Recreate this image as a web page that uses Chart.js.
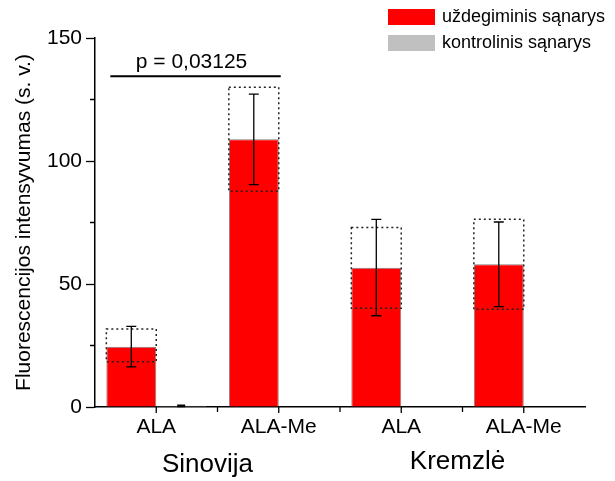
<!DOCTYPE html>
<html>
<head>
<meta charset="utf-8">
<script src="https://cdn.jsdelivr.net/npm/chart.js@4/dist/chart.umd.min.js"></script>
<style>
  html, body { margin: 0; padding: 0; background: #fff; }
  #wrap { width: 615px; height: 481px; }
</style>
</head>
<body>
<div id="wrap"><canvas id="myChart" width="615" height="481"></canvas></div>
<script>
// kategorijos ir grupės
var categories = ['ALA', 'ALA-Me', 'ALA', 'ALA-Me'];
var groups = ['Sinovija', 'Kremzlė'];

// uždegiminis sąnarys: vidurkis, paklaidos, punktyrinis intervalas
var inflamed = [24.5, 108.8, 56.6, 58.0];
var inflamedErrLow = [16.3, 90.4, 37.1, 40.8];
var inflamedErrHigh = [32.8, 127.2, 76.3, 75.2];
var inflamedBoxLow = [18.4, 87.7, 40.1, 39.7];
var inflamedBoxHigh = [31.7, 130.0, 73.0, 76.3];

// kontrolinis sąnarys
var control = [0.5, 0, 0, 0];
var controlErrLow = [0.2, 0, 0, 0];
var controlErrHigh = [0.8, 0, 0, 0];

var yTicks = [0, 50, 100, 150];
var yMinorTicks = [25, 75, 125];

var pText = 'p = 0,03125';
var pLevel = 134.5;

var font = "'Liberation Sans', Arial, sans-serif";

function errBar(ctx, x, yLo, yHi, cap) {
  ctx.beginPath();
  ctx.moveTo(x, yLo); ctx.lineTo(x, yHi);
  ctx.moveTo(x - cap, yLo); ctx.lineTo(x + cap, yLo);
  ctx.moveTo(x - cap, yHi); ctx.lineTo(x + cap, yHi);
  ctx.stroke();
}

var extras = {
  id: 'extras',
  afterDatasetsDraw: function(chart) {
    var ctx = chart.ctx;
    var y = chart.scales.y;
    var red = chart.getDatasetMeta(0).data;
    var grey = chart.getDatasetMeta(1).data;
    ctx.save();

    // punktyriniai stačiakampiai
    ctx.strokeStyle = '#222';
    ctx.lineWidth = 1.5;
    ctx.setLineDash([2, 3]);
    red.forEach(function(bar, i) {
      var l = bar.x - bar.width / 2, r = bar.x + bar.width / 2;
      var t = y.getPixelForValue(inflamedBoxHigh[i]);
      var b = y.getPixelForValue(inflamedBoxLow[i]);
      ctx.strokeRect(l, t, r - l, b - t);
    });
    ctx.setLineDash([]);

    // paklaidos
    ctx.strokeStyle = '#000';
    ctx.lineWidth = 1.3;
    red.forEach(function(bar, i) {
      errBar(ctx, bar.x, y.getPixelForValue(inflamedErrLow[i]), y.getPixelForValue(inflamedErrHigh[i]), 5);
    });
    grey.forEach(function(bar, i) {
      if (controlErrHigh[i] > 0) {
        errBar(ctx, bar.x, y.getPixelForValue(controlErrLow[i]), y.getPixelForValue(controlErrHigh[i]), 4);
      }
    });

    // p reikšmės linija
    var pl = red[0].x - red[0].width / 2 + 4;
    var pr = red[1].x + red[1].width / 2 + 2;
    var py = y.getPixelForValue(pLevel);
    ctx.lineWidth = 2;
    ctx.beginPath();
    ctx.moveTo(pl, py); ctx.lineTo(pr, py);
    ctx.stroke();
    ctx.fillStyle = '#000';
    ctx.font = '21px ' + font;
    ctx.textAlign = 'center';
    ctx.textBaseline = 'alphabetic';
    ctx.fillText(pText, (pl + pr) / 2 - 4, py - 8);
    ctx.restore();
  },
  afterDraw: function(chart) {
    var ctx = chart.ctx;
    var x = chart.scales.x, y = chart.scales.y;
    var a = chart.chartArea;
    ctx.save();
    ctx.strokeStyle = '#000';
    ctx.lineWidth = 1.3;
    ctx.beginPath();
    // smulkios y ašies žymos
    yMinorTicks.forEach(function(v) {
      var py = y.getPixelForValue(v);
      ctx.moveTo(a.left - 5, py); ctx.lineTo(a.left, py);
    });
    // x ašies žymos: centrai ir kategorijų ribos
    for (var i = 0; i < categories.length; i++) {
      var pc = x.getPixelForValue(i);
      ctx.moveTo(pc, a.bottom); ctx.lineTo(pc, a.bottom + 6);
      if (i < categories.length - 1) {
        var pb = x.getPixelForValue(i + 0.5);
        ctx.moveTo(pb, a.bottom); ctx.lineTo(pb, a.bottom + 5);
      }
    }
    ctx.stroke();

    // grupių pavadinimai
    ctx.fillStyle = '#000';
    ctx.font = '26px ' + font;
    ctx.textAlign = 'center';
    ctx.textBaseline = 'alphabetic';
    var m1 = (x.getPixelForValue(0) + x.getPixelForValue(1)) / 2;
    var m2 = (x.getPixelForValue(2) + x.getPixelForValue(3)) / 2;
    ctx.fillText(groups[0], m1 - 10, 472);
    ctx.fillText(groups[1], m2 - 5, 469);

    // legenda
    var items = [
      { label: 'uždegiminis sąnarys', fill: chart.data.datasets[0].backgroundColor, y: 9 },
      { label: 'kontrolinis sąnarys', fill: chart.data.datasets[1].backgroundColor, y: 35 }
    ];
    ctx.font = '18px ' + font;
    ctx.textAlign = 'left';
    ctx.textBaseline = 'middle';
    items.forEach(function(it) {
      ctx.fillStyle = it.fill;
      ctx.fillRect(388, it.y, 47, 16);
      ctx.fillStyle = '#000';
      ctx.fillText(it.label, 442, it.y + 8);
    });
    ctx.restore();
  }
};

Chart.defaults.font.family = font;
Chart.defaults.color = '#000';

var ctx1 = document.getElementById('myChart').getContext('2d');
var chart = new Chart(ctx1, {
  type: 'bar',
  data: {
    labels: categories,
    datasets: [{
      label: 'uždegiminis sąnarys',
      data: inflamed,
      backgroundColor: '#ff0000',
      borderColor: '#808080',
      borderWidth: 1,
      barPercentage: 1.0,
      categoryPercentage: 0.815
    }, {
      label: 'kontrolinis sąnarys',
      data: control,
      backgroundColor: '#c0c0c0',
      borderColor: '#a8a8a8',
      borderWidth: 1,
      barPercentage: 1.0,
      categoryPercentage: 0.815
    }]
  },
  plugins: [extras],
  options: {
    responsive: false,
    animation: false,
    layout: { padding: { top: 38, right: 30, left: 0, bottom: 0 } },
    plugins: {
      legend: { display: false },
      tooltip: { enabled: false }
    },
    scales: {
      x: {
        offset: true,
        grid: { display: false },
        border: { display: true, color: '#000', width: 1.5 },
        ticks: { font: { size: 21 }, padding: 0, maxRotation: 0 },
        afterFit: function(s) { s.height = 74; }
      },
      y: {
        min: 0,
        max: 150,
        afterBuildTicks: function(s) { s.ticks = yTicks.map(function(v) { return { value: v }; }); },
        grid: { drawOnChartArea: false, tickLength: 9, tickColor: '#000', tickWidth: 1.3 },
        border: { color: '#000', width: 1.5 },
        ticks: { font: { size: 21 }, padding: 4 },
        title: {
          display: true,
          text: 'Fluorescencijos intensyvumas (s. v.)',
          font: { size: 21 },
          padding: { top: 12, bottom: 0 }
        },
        afterFit: function(s) { s.width = 95; }
      }
    }
  }
});
</script>
</body>
</html>
